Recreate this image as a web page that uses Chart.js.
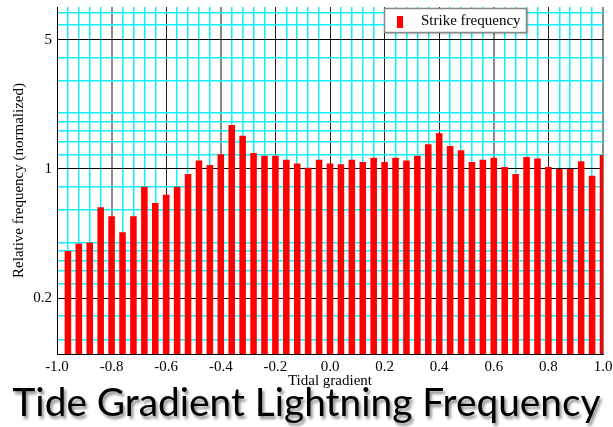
<!DOCTYPE html>
<html>
<head>
<meta charset="utf-8">
<script src="https://cdn.jsdelivr.net/npm/chart.js@4/dist/chart.umd.min.js"></script>
<style>
    body { margin: 0; background: #fff; }
    #wrap { position: relative; width: 613px; height: 427px; overflow: hidden; }
    #bigTitle {
        position: absolute; left: 0; top: 382px; width: 613px;
        font-family: Lato, 'Open Sans', sans-serif; font-size: 38px; line-height: 1;
        color: #000; white-space: nowrap; text-align: center;
        text-shadow: 2px 3px 3px rgba(0, 0, 0, 0.45);
    }
</style>
</head>
<body>
<div id="wrap">
    <canvas id="tideChart" width="613" height="427"></canvas>
    <div id="bigTitle">Tide Gradient Lightning Frequency</div>
</div>
<script>
// bin centres (tidal gradient) and normalized strike frequency
const gradientBins = [
    -0.96, -0.92, -0.88, -0.84, -0.80, -0.76, -0.72, -0.68, -0.64, -0.60,
    -0.56, -0.52, -0.48, -0.44, -0.40, -0.36, -0.32, -0.28, -0.24, -0.20,
    -0.16, -0.12, -0.08, -0.04, 0.00, 0.04, 0.08, 0.12, 0.16, 0.20,
    0.24, 0.28, 0.32, 0.36, 0.40, 0.44, 0.48, 0.52, 0.56, 0.60,
    0.64, 0.68, 0.72, 0.76, 0.80, 0.84, 0.88, 0.92, 0.96, 1.00
];
const strikeFrequency = [
    0.36, 0.395, 0.40, 0.62, 0.555, 0.455, 0.555, 0.80, 0.655, 0.725,
    0.80, 0.94, 1.11, 1.05, 1.20, 1.73, 1.51, 1.22, 1.18, 1.18,
    1.12, 1.07, 1.015, 1.12, 1.07, 1.06, 1.12, 1.09, 1.15, 1.09,
    1.15, 1.11, 1.18, 1.36, 1.56, 1.33, 1.26, 1.09, 1.12, 1.15,
    1.025, 0.94, 1.16, 1.14, 1.025, 1.0, 1.0, 1.10, 0.92, 1.19
];

// axis ticks
const xMajorTicks = [-1.0, -0.8, -0.6, -0.4, -0.2, 0.0, 0.2, 0.4, 0.6, 0.8, 1.0];
const xGreyTicks = [-0.8, -0.4, 0.6, 1.0];
const xMinorStep = 0.04;
const yLabelTicks = [0.2, 1, 5];
const yGridValues = [0.12, 0.16, 0.2, 0.24, 0.28, 0.32, 0.36, 0.4, 0.6, 0.8,
    1, 1.2, 1.4, 1.6, 1.8, 2, 3, 4, 5, 6, 7];

const CYAN = '#10f0f8';
const serif = 'Liberation Serif, Times New Roman, serif';
const near = (a, b) => Math.abs(a - b) < 1e-6;

const xGrid = [];
for (let k = 0; k <= Math.round(2 / xMinorStep); k++) {
    xGrid.push(Number((-1 + k * xMinorStep).toFixed(2)));
}

// framed legend box inside the plot, top right
const boxLegend = {
    id: 'boxLegend',
    afterDraw(chart) {
        const ctx = chart.ctx;
        const ds = chart.data.datasets[0];
        ctx.save();
        ctx.shadowColor = 'rgba(0,0,0,0.25)';
        ctx.shadowOffsetX = 1;
        ctx.shadowOffsetY = 1;
        ctx.shadowBlur = 2;
        ctx.fillStyle = '#fff';
        ctx.fillRect(384, 8, 143, 25);
        ctx.restore();
        ctx.save();
        ctx.strokeStyle = '#888';
        ctx.lineWidth = 1.5;
        ctx.strokeRect(384.5, 8.5, 142, 24);
        ctx.fillStyle = ds.backgroundColor;
        ctx.fillRect(397, 16, 6, 12);
        ctx.fillStyle = '#000';
        ctx.font = '15px ' + serif;
        ctx.textBaseline = 'middle';
        ctx.fillText(ds.label, 421, 21);
        ctx.restore();
    }
};

const isXMajor = (v) => xMajorTicks.some(t => near(t, v));
const isYMajor = (v) => yLabelTicks.some(t => near(t, v));

new Chart(document.getElementById('tideChart'), {
    type: 'bar',
    data: {
        datasets: [{
            label: 'Strike frequency',
            data: gradientBins.map((x, i) => ({ x: x, y: strikeFrequency[i] })),
            backgroundColor: '#ff0000',
            borderWidth: 0,
            barPercentage: 0.6,
            categoryPercentage: 1.0
        }]
    },
    options: {
        responsive: false,
        animation: false,
        devicePixelRatio: 1,
        layout: { padding: { left: 0, top: 7, right: 10, bottom: 37 } },
        plugins: {
            legend: { display: false },
            tooltip: { enabled: false }
        },
        scales: {
            x: {
                type: 'linear',
                min: -1,
                max: 1,
                offset: false,
                afterBuildTicks: (scale) => { scale.ticks = xGrid.map(v => ({ value: v })); },
                afterFit: (scale) => { scale.height = 36; scale.paddingLeft = 0; scale.paddingRight = 0; },
                ticks: {
                    autoSkip: false,
                    maxRotation: 0,
                    padding: 4,
                    color: '#000',
                    font: { family: serif, size: 15 },
                    callback: (v) => isXMajor(v) ? v.toFixed(1) : ''
                },
                grid: {
                    offset: false,
                    drawTicks: false,
                    lineWidth: (c) => {
                        const v = c.tick ? c.tick.value : 0;
                        if (xGreyTicks.some(t => near(t, v))) return 2;
                        return isXMajor(v) ? 1 : 1.5;
                    },
                    color: (c) => {
                        const v = c.tick ? c.tick.value : 0;
                        if (xGreyTicks.some(t => near(t, v))) return '#8a8a8a';
                        return isXMajor(v) ? '#222' : CYAN;
                    }
                },
                border: { color: '#000', width: 1 },
                title: {
                    display: true,
                    text: 'Tidal gradient',
                    color: '#000',
                    font: { family: serif, size: 15 },
                    padding: { top: 0, bottom: 0 }
                }
            },
            y: {
                type: 'logarithmic',
                min: 0.1,
                max: 7.5,
                afterBuildTicks: (scale) => { scale.ticks = yGridValues.map(v => ({ value: v })); },
                afterFit: (scale) => { scale.width = 57; scale.paddingTop = 0; scale.paddingBottom = 0; },
                ticks: {
                    autoSkip: false,
                    padding: 5,
                    color: '#000',
                    font: { family: serif, size: 15 },
                    callback: (v) => isYMajor(v) ? String(v) : ''
                },
                grid: {
                    drawTicks: false,
                    lineWidth: (c) => isYMajor(c.tick ? c.tick.value : 0) ? 1 : 1.5,
                    color: (c) => isYMajor(c.tick ? c.tick.value : 0) ? '#000' : CYAN
                },
                border: { color: '#000', width: 1 },
                title: {
                    display: true,
                    text: 'Relative frequency (normalized)',
                    color: '#000',
                    font: { family: serif, size: 15 },
                    padding: { top: 10, bottom: 0 }
                }
            }
        }
    },
    plugins: [boxLegend]
});

// squeeze the big caption to the reference width
const cap = document.getElementById('bigTitle');
const range = document.createRange();
range.selectNodeContents(cap);
const w = range.getBoundingClientRect().width;
cap.style.transform = 'scaleX(' + (588 / w) + ')';
cap.style.transformOrigin = '306px 0';
</script>
</body>
</html>
